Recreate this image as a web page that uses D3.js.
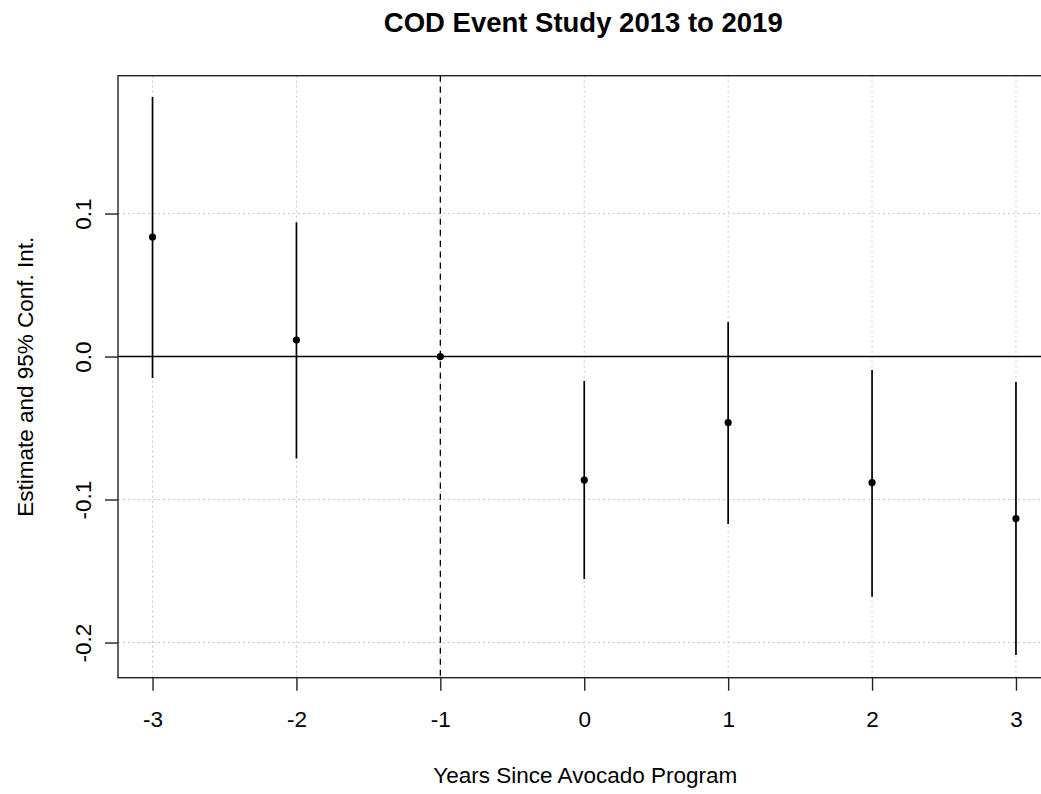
<!DOCTYPE html>
<html><head><meta charset="utf-8">
<script src="https://cdn.jsdelivr.net/npm/d3@7"></script>
<style>body{margin:0;background:#fff}svg{display:block}text{font-family:"Liberation Sans",Arial,sans-serif}</style>
</head><body>
<script>
const years = [-3, -2, -1, 0, 1, 2, 3];
const estimates = [0.0836, 0.0115, 0.0, -0.0864, -0.0462, -0.0881, -0.1133];
const ciLower = [-0.0150, -0.0713, 0.0, -0.1556, -0.1171, -0.1680, -0.2087];
const ciUpper = [0.1815, 0.0938, 0.0, -0.0171, 0.0241, -0.0094, -0.0178];
const xTicks = [-3, -2, -1, 0, 1, 2, 3];
const xTickLabels = ["-3", "-2", "-1", "0", "1", "2", "3"];
const yTicks = [-0.2, -0.1, 0.0, 0.1];
const yTickLabels = ["-0.2", "-0.1", "0.0", "0.1"];

const W = 1041, H = 794;
const L = 118, R = 1050.5, T = 75.7, B = 677.7;
const FS = 22.5;
const svg = d3.select("body").append("svg").attr("width", W).attr("height", H);

const x = d3.scaleLinear().domain([-3.24, 3.24]).range([L, R]);
const y = d3.scaleLinear().domain([-0.2246, 0.1964]).range([B, T]);

// grid
const grid = svg.append("g").attr("stroke", "#c8c8c8").attr("stroke-width", 1).attr("stroke-dasharray", "2,3");
grid.selectAll(".gx").data(xTicks).join("line")
  .attr("x1", d => x(d)).attr("x2", d => x(d)).attr("y1", T).attr("y2", B);
grid.selectAll(".gy").data(yTicks).join("line")
  .attr("y1", d => y(d)).attr("y2", d => y(d)).attr("x1", L).attr("x2", R);

// zero line
svg.append("line").attr("x1", L).attr("x2", R).attr("y1", y(0)).attr("y2", y(0))
  .attr("stroke", "#000").attr("stroke-width", 1.4);
// reference dashed line at -1
svg.append("line").attr("x1", x(-1)).attr("x2", x(-1)).attr("y1", T).attr("y2", B)
  .attr("stroke", "#000").attr("stroke-width", 1.3).attr("stroke-dasharray", "6,5");

// CI
const idx = d3.range(years.length);
svg.append("g").selectAll("line").data(idx.filter(i => ciUpper[i] !== ciLower[i])).join("line")
  .attr("x1", i => x(years[i])).attr("x2", i => x(years[i]))
  .attr("y1", i => y(ciLower[i])).attr("y2", i => y(ciUpper[i]))
  .attr("stroke", "#000").attr("stroke-width", 1.7);
svg.append("g").selectAll("circle").data(idx).join("circle")
  .attr("cx", i => x(years[i])).attr("cy", i => y(estimates[i])).attr("r", 3.6).attr("fill", "#000");

// box
svg.append("rect").attr("x", L).attr("y", T).attr("width", R - L).attr("height", B - T)
  .attr("fill", "none").attr("stroke", "#222").attr("stroke-width", 1.4);

// axes
const xAxis = d3.axisBottom(x).tickValues(xTicks).tickSize(13).tickPadding(20).tickFormat((d, i) => xTickLabels[i]);
const gx = svg.append("g").attr("transform", `translate(0,${B})`).call(xAxis);
gx.select(".domain").remove();
gx.selectAll("line").attr("stroke", "#222").attr("stroke-width", 1.4);
gx.selectAll("text").attr("font-size", FS).attr("fill", "#000").attr("font-family", "Liberation Sans, Arial, sans-serif");

const yAxis = d3.axisLeft(y).tickValues(yTicks).tickSize(13).tickFormat((d, i) => yTickLabels[i]);
const gy = svg.append("g").attr("transform", `translate(${L},0)`).call(yAxis);
gy.select(".domain").remove();
gy.selectAll("line").attr("stroke", "#222").attr("stroke-width", 1.4);
gy.selectAll("text").attr("font-size", FS).attr("fill", "#000").attr("font-family", "Liberation Sans, Arial, sans-serif")
  .attr("text-anchor", "middle").attr("x", 0).attr("dy", 0)
  .attr("transform", "translate(-27,0) rotate(-90)");

// titles
svg.append("text").attr("x", (L + R) / 2 - 1).attr("y", 32).attr("text-anchor", "middle")
  .attr("font-size", 27.5).attr("font-weight", "bold").text("COD Event Study 2013 to 2019");
svg.append("text").attr("x", (L + R) / 2 + 1).attr("y", 783).attr("text-anchor", "middle")
  .attr("font-size", FS).text("Years Since Avocado Program");
svg.append("text").attr("transform", `translate(33,${(T + B) / 2}) rotate(-90)`).attr("text-anchor", "middle")
  .attr("font-size", FS).text("Estimate and 95% Conf. Int.");
</script>
</body></html>
